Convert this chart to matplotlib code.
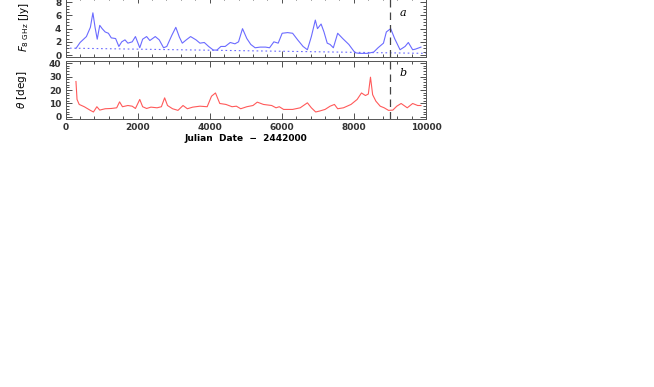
import matplotlib.pyplot as plt
from matplotlib.ticker import MultipleLocator

# flux density at 8 GHz (panel a)
flux_jd = [290, 405, 580, 690, 760, 820, 880, 950, 1017, 1100, 1190, 1270, 1390, 1480,
           1560, 1650, 1730, 1850, 1940, 2060, 2140, 2250, 2340, 2490, 2600, 2720, 2810,
           2950, 3060, 3160, 3240, 3350, 3470, 3620, 3730, 3850, 3970, 4100, 4200, 4310,
           4430, 4570, 4700, 4800, 4910, 5030, 5140, 5260, 5400, 5550, 5660, 5780, 5900,
           6010, 6160, 6300, 6440, 6590, 6710, 6820, 6930, 6990, 7090, 7170, 7260, 7340,
           7430, 7550, 7690, 7860, 8030, 8150, 8380, 8550, 8670, 8820, 8900, 9020, 9130,
           9280, 9420, 9510, 9630, 9710, 9860]
flux = [1.0, 1.9, 2.8, 4.2, 6.4, 4.2, 2.4, 4.5, 4.0, 3.5, 3.3, 2.6, 2.5, 1.3,
        2.0, 2.3, 1.8, 2.0, 2.8, 1.1, 2.4, 2.8, 2.2, 2.8, 2.3, 1.1, 1.3,
        3.0, 4.2, 2.7, 1.8, 2.3, 2.8, 2.3, 1.8, 1.9, 1.3, 0.75, 0.75, 1.3,
        1.3, 1.9, 1.7, 2.0, 4.0, 2.5, 1.6, 1.1, 1.2, 1.2, 1.1, 2.0, 1.8,
        3.3, 3.4, 3.3, 2.3, 1.3, 0.8, 2.8, 5.3, 4.0, 4.7, 3.5, 1.8, 1.6,
        1.1, 3.3, 2.5, 1.6, 0.35, 0.25, 0.25, 0.45, 1.1, 1.8, 3.5, 4.0, 2.5,
        0.8, 1.3, 1.9, 0.8, 0.9, 1.2]
base_jd = [0, 10000]
base_flux = [1.05, 0.25]

# angle theta (panel b)
theta_jd = [290, 320, 380, 520, 690, 775, 870, 950, 1100, 1270, 1420, 1500, 1580, 1730,
            1850, 1940, 2060, 2140, 2250, 2370, 2540, 2660, 2750, 2830, 2970, 3120, 3260,
            3380, 3530, 3730, 3930, 4050, 4160, 4280, 4450, 4620, 4740, 4860, 5030, 5200,
            5320, 5490, 5720, 5840, 5930, 6050, 6300, 6510, 6710, 6820, 6940, 7050, 7200,
            7340, 7460, 7550, 7710, 7920, 8090, 8210, 8320, 8400, 8460, 8520, 8610, 8730,
            8840, 8960, 9080, 9190, 9310, 9480, 9630, 9770, 9860]
theta = [26.3, 13, 9.3, 7.6, 4.9, 3.7, 7.6, 5.1, 6.1, 6.3, 6.8, 11.2, 7.6, 8.5,
         8, 6.3, 13, 7.6, 6.3, 7.3, 6.8, 7.6, 14.2, 8.5, 6.1, 4.9, 8.5,
         6.1, 7.3, 8, 7.6, 15.4, 17.8, 10, 9.3, 7.6, 8, 6.1, 7.6, 8.5,
         11, 9.3, 8.5, 6.8, 7.6, 5.6, 5.6, 6.8, 10.5, 6.8, 3.7, 4.4, 5.6,
         8, 9.3, 6.1, 6.8, 9.3, 13, 17.8, 15.9, 17, 29.5, 16.5, 11.7, 8,
         6.8, 4.9, 5.1, 8, 10, 6.8, 10, 8.5, 8.5]

W, H = 654, 387
fig = plt.figure(figsize=(W / 100, H / 100), dpi=100)
plt.rcParams['font.family'] = 'DejaVu Sans'

def frac(x0, x1, ytop, ybot):
    return [x0 / W, 1 - ybot / H, (x1 - x0) / W, (ybot - ytop) / H]

ax1 = fig.add_axes(frac(65.5, 426, -3, 57))
ax2 = fig.add_axes(frac(65.5, 426, 61, 119))

blue = '#6b6bff'
red = '#ff5a5a'

ax1.plot(flux_jd, flux, color=blue, lw=0.8)
ax1.plot(base_jd, base_flux, color=blue, lw=0.8, ls=(0, (1.5, 2.5)))
ax2.plot(theta_jd, theta, color=red, lw=0.8)

for ax in (ax1, ax2):
    ax.axvline(9000, color='#444444', lw=0.9, ls=(0, (6, 4)))
    ax.set_xlim(0, 10000)
    ax.xaxis.set_major_locator(MultipleLocator(2000))
    ax.xaxis.set_minor_locator(MultipleLocator(400))
    ax.tick_params(which='both', direction='in', top=True, right=True,
                   labelsize=6.5, width=0.6, colors='#333333', pad=3)
    ax.tick_params(which='major', length=4)
    ax.tick_params(which='minor', length=2)
    for s in ax.spines.values():
        s.set_linewidth(0.7)
        s.set_color('#555555')

ax1.set_ylim(-0.3, 8.8)
ax1.yaxis.set_major_locator(MultipleLocator(2))
ax1.yaxis.set_minor_locator(MultipleLocator(0.5))
ax1.tick_params(labelbottom=False)
ax1.set_ylabel(r'$F_{8\ \mathrm{GHz}}$ [Jy]', fontsize=7.5, labelpad=17)
ax1.text(9370, 6.4, 'a', fontsize=8, style='italic', family='DejaVu Serif',
         ha='center', va='center')

ax2.set_ylim(-1.5, 41.5)
ax2.yaxis.set_major_locator(MultipleLocator(10))
ax2.yaxis.set_minor_locator(MultipleLocator(2))
ax2.set_ylabel(r'$\theta$ [deg]', fontsize=7.5, labelpad=14)
ax2.set_xlabel('Julian  Date  \u2212  2442000', fontsize=6.5, fontweight='bold',
               labelpad=1)
ax2.text(9370, 32.5, 'b', fontsize=8, style='italic', family='DejaVu Serif',
         ha='center', va='center')

for lab in ax1.get_yticklabels() + ax2.get_xticklabels() + ax2.get_yticklabels():
    lab.set_fontweight('bold')

fig.savefig('out.png', dpi=100)
